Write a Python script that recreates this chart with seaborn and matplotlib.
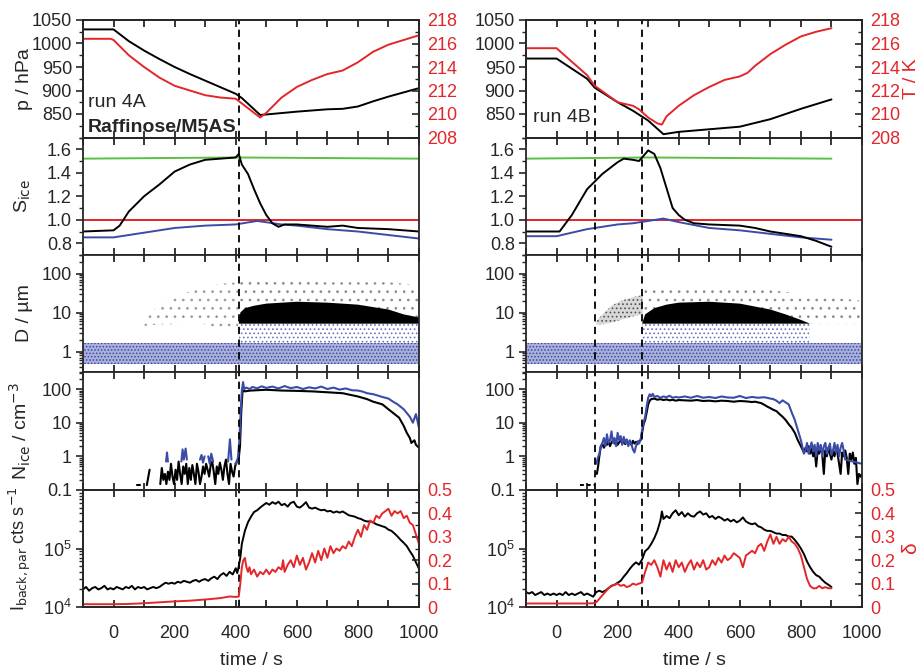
import numpy as np
import matplotlib
matplotlib.use("Agg")
import matplotlib.pyplot as plt
import matplotlib.ticker as mticker
import seaborn as sns

sns.set_theme(style="ticks")
plt.rcParams["font.family"] = ["Liberation Sans", "DejaVu Sans"]
plt.rcParams["hatch.linewidth"] = 0.7
plt.rcParams["axes.linewidth"] = 1.2

RED = "#e3262a"
BLUE = "#3a4ca8"
GREEN = "#5cbf45"
NAN = np.nan

# ---------------- run 4A (left column) ----------------
# pressure / temperature
pA_t = [-100, 0, 50, 100, 150, 200, 250, 300, 350, 400, 420, 480, 500, 600, 700, 750, 800, 850, 900, 1000]
pA = [1030, 1030, 1005, 985, 967, 950, 935, 921, 907, 893, 884, 848, 849, 855, 860, 861, 866, 877, 887, 905]
TA_t = [-100, -10, 0, 50, 100, 150, 200, 250, 300, 350, 400, 410, 480, 500, 550, 600, 650, 700, 750, 800, 850, 900, 950, 1000]
TA = [216.4, 216.4, 216.3, 215.0, 214.0, 213.1, 212.4, 212.0, 211.6, 211.4, 211.3, 211.1, 209.7, 210.1, 211.4, 212.3, 212.9, 213.4, 213.7, 214.4, 215.3, 215.9, 216.3, 216.7]

# saturation ratios
SA_t = [-100, 0, 20, 50, 100, 150, 200, 250, 300, 350, 400, 410, 420, 440, 460, 480, 500, 520, 540, 560, 600, 700, 750, 800, 900, 1000]
SA = [0.90, 0.91, 0.95, 1.07, 1.20, 1.30, 1.41, 1.47, 1.51, 1.52, 1.53, 1.56, 1.47, 1.39, 1.26, 1.14, 1.04, 0.97, 0.94, 0.96, 0.96, 0.94, 0.95, 0.93, 0.92, 0.90]
SwA_t = [-100, 400, 1000]
SwA = [1.52, 1.53, 1.52]
SiwA_t = [-100, 0, 100, 200, 300, 400, 470, 550, 600, 700, 800, 900, 1000]
SiwA = [0.85, 0.85, 0.89, 0.93, 0.95, 0.96, 0.99, 0.96, 0.95, 0.92, 0.90, 0.87, 0.84]

# size distribution envelopes (D / um)
DA_aer_t, DA_aer_lo, DA_aer_hi = [-100, 1000], [0.48, 0.48], [1.7, 1.7]
DA_mid_t, DA_mid_lo, DA_mid_hi = [412, 1000], [1.7, 1.7], [5.2, 5.2]
DA_ice_t = [410, 415, 430, 460, 500, 600, 700, 800, 900, 950, 1000]
DA_ice_lo = [5.2, 5.2, 5.2, 5.2, 5.2, 5.2, 5.2, 5.2, 5.2, 5.2, 5.2]
DA_ice_hi = [5.2, 10, 13, 15, 17, 19, 18, 16, 12, 9, 7.5]
DA_pre_t = [95, 150, 200, 250, 300, 350, 408]
DA_pre_lo = [4.5, 5, 5, 6, 5, 4, 4]
DA_pre_hi = [7, 15, 25, 35, 45, 55, 60]
DA_halo_t = [410, 415, 430, 460, 500, 600, 700, 800, 900, 950, 1000]
DA_halo_lo = [5.2, 10, 13, 15, 17, 19, 18, 16, 12, 9, 7.5]
DA_halo_hi = [60, 60, 62, 65, 65, 62, 60, 60, 60, 55, 50]

# ice number concentration
nA_blk_t = [78, 86, NAN, 109, 118, NAN,
            153, 158, 163, 168, 173, 178, 183, 188, 193, 198, 203, 208, 213, 218, 223, 228, 233, 238, 243,
            248, 253, 258, 263, 268, 273, 278, 283, 288, 293, 298, 303, 308, 313, 318, 323, 328, 333, 338,
            343, 348, 353, 358, 363, 368, 373, 378, 383, 388, 393, 398, 403, 407, 410, 414, 418, 422, 426,
            430, 440, 450, 500, 550, 600, 650, 700, 750, 800, 830, 850, 880, 900, 920, 935, 950, 960, 970,
            975, 985, 990, 1000]
nA_blk = [0.14, 0.14, NAN, 0.14, 0.4, NAN,
          0.15, 0.45, 0.2, 0.3, 0.15, 0.35, 0.2, 0.6, 0.25, 0.15, 0.4, 0.2, 0.7, 0.3, 0.15, 0.5, 0.3, 0.6, 0.15,
          0.45, 0.2, 0.55, 0.3, 0.15, 0.6, 0.35, 0.15, 0.25, 0.5, 0.3, 0.6, 0.4, 0.25, 0.55, 0.7, 0.35, 0.15, 0.5,
          0.3, 0.65, 0.4, 0.2, 0.5, 0.8, 0.3, 0.15, 0.6, 0.35, 0.25, 0.5, 0.7, 0.8, 0.9, 2, 20, 80, 90,
          85, 88, 90, 95, 90, 88, 85, 80, 75, 60, 50, 42, 35, 25, 18, 14, 8, 5, 3.5,
          2.5, 3, 2.2, 1.8]
nA_blu_t = [172, 175, 178, NAN, 222, 226, 230, 236, 240, NAN, 283, 288, 293, 298, NAN, 310, 315, 320, 326, NAN,
            375, 381, 386, NAN, 398, 402, 407, 412, 416, 420, 424, 428, 435, 445, 455, 470, 485, 500, 520, 540,
            560, 580, 600, 620, 640, 660, 680, 700, 720, 740, 760, 780, 800, 815, 830, 850, 865, 880, 900, 915,
            930, 950, 970, 980, 990, 1000]
nA_blu = [0.7, 1.3, 0.7, NAN, 0.7, 1.6, 0.8, 1.7, 0.8, NAN, 0.8, 1.1, 0.65, 1.0, NAN, 1.0, 0.6, 1.2, 0.7, NAN,
          0.7, 3.2, 0.8, NAN, 0.6, 0.6, 0.9, 3, 20, 90, 160, 100, 110, 100, 115, 105, 120, 108, 118, 104,
          122, 106, 115, 100, 112, 104, 118, 100, 110, 96, 104, 92, 90, 84, 75, 70, 64, 58, 52, 42,
          35, 25, 15, 10, 18, 7]

# backscatter intensity and depolarisation
IA_t = [-100, -90, -80, -70, -60, -50, -40, -30, -20, -10, 0, 10, 20, 30, 40, 50, 60, 70, 80, 90, 100,
        110, 120, 130, 140, 150, 160, 170, 180, 190, 200, 210, 220, 230, 240, 250, 260, 270, 280, 290, 300,
        310, 320, 330, 340, 350, 360, 370, 380, 390, 400, 405, 410, 415, 420, 430, 440, 450, 460, 470, 480,
        490, 500, 510, 520, 530, 540, 550, 560, 570, 580, 590, 600, 610, 620, 630, 640, 650, 660, 670, 680,
        690, 700, 710, 720, 730, 740, 750, 760, 770, 780, 790, 800, 810, 820, 830, 840, 850, 860, 870, 880,
        890, 900, 910, 920, 930, 940, 950, 960, 970, 980, 990, 1000]
IA = [2.0e4, 2.2e4, 1.9e4, 2.1e4, 2.2e4, 2.0e4, 2.1e4, 2.3e4, 2.0e4, 2.1e4, 2.0e4, 2.2e4, 2.1e4, 2.0e4, 2.2e4,
      2.1e4, 2.3e4, 2.0e4, 2.2e4, 2.1e4, 2.2e4, 2.0e4, 2.1e4, 2.2e4, 2.1e4, 2.2e4, 2.4e4, 2.6e4, 2.5e4, 2.6e4,
      2.5e4, 2.7e4, 2.6e4, 2.8e4, 2.7e4, 2.6e4, 2.8e4, 2.9e4, 2.7e4, 2.9e4, 3.0e4, 2.8e4, 3.1e4, 3.3e4, 3.0e4,
      3.5e4, 3.8e4, 3.4e4, 4.0e4, 3.6e4, 4.6e4, 3.8e4, 5.0e4, 7.0e4, 1.2e5, 2.0e5, 2.8e5, 3.5e5, 4.2e5, 4.5e5,
      5.0e5, 5.5e5, 6.0e5, 5.6e5, 6.2e5, 5.8e5, 6.3e5, 5.5e5, 5.8e5, 5.2e5, 6.0e5, 6.3e5, 5.2e5, 5.0e5, 5.5e5,
      6.2e5, 5.0e5, 4.8e5, 5.0e5, 4.7e5, 4.5e5, 4.6e5, 4.3e5, 4.4e5, 4.1e5, 4.3e5, 4.1e5, 4.3e5, 4.0e5, 3.7e5,
      3.6e5, 3.5e5, 3.3e5, 3.2e5, 3.0e5, 2.9e5, 2.9e5, 2.8e5, 2.6e5, 2.5e5, 2.4e5, 2.3e5, 2.1e5, 2.0e5, 1.8e5,
      1.6e5, 1.4e5, 1.25e5, 1.1e5, 9.0e4, 7.5e4, 5.8e4, 4.5e4]
dA_t = [-100, 0, 50, 100, 150, 200, 250, 300, 350, 380, 400, 410, 415, 420, 425, 430, 435, 440, 445, 450, 460,
        470, 480, 490, 500, 510, 520, 530, 540, 550, 555, 560, 570, 580, 590, 600, 610, 620, 630, 640, 650,
        660, 670, 680, 690, 700, 710, 720, 730, 740, 750, 760, 770, 780, 790, 800, 810, 820, 830, 840, 850,
        860, 870, 880, 890, 900, 910, 920, 930, 940, 950, 960, 970, 980, 990, 1000]
dA = [0.012, 0.012, 0.013, 0.016, 0.02, 0.024, 0.027, 0.032, 0.038, 0.045, 0.043, 0.045, 0.10, 0.17, 0.20,
      0.21, 0.17, 0.15, 0.17, 0.14, 0.16, 0.13, 0.15, 0.14, 0.16, 0.14, 0.16, 0.15, 0.17, 0.16, 0.20, 0.15,
      0.18, 0.20, 0.17, 0.22, 0.18, 0.21, 0.16, 0.19, 0.23, 0.19, 0.24, 0.20, 0.25, 0.21, 0.26, 0.23, 0.25,
      0.24, 0.26, 0.25, 0.28, 0.26, 0.30, 0.33, 0.30, 0.35, 0.33, 0.37, 0.36, 0.39, 0.38, 0.40, 0.41, 0.42,
      0.39, 0.41, 0.40, 0.41, 0.38, 0.39, 0.36, 0.35, 0.31, 0.27]

# ---------------- run 4B (right column) ----------------
pB_t = [-100, 0, 100, 125, 200, 250, 300, 350, 400, 600, 700, 800, 900]
pB = [968, 968, 925, 906, 875, 857, 836, 807, 812, 823, 839, 861, 881]
TB_t = [-100, 0, 100, 125, 200, 250, 270, 300, 330, 345, 360, 400, 450, 500, 550, 600, 625, 650, 700, 750, 800, 850, 900]
TB = [215.6, 215.6, 213.3, 212.4, 211.0, 210.7, 210.4, 209.7, 209.2, 209.1, 209.8, 210.7, 211.6, 212.3, 212.9,
      213.2, 213.5, 214.1, 215.1, 215.9, 216.6, 217.0, 217.3]

SB_t = [-100, 10, 50, 100, 150, 200, 220, 250, 270, 280, 300, 320, 340, 360, 380, 400, 420, 450, 500, 600,
        650, 700, 800, 850, 900]
SB = [0.90, 0.90, 1.04, 1.26, 1.39, 1.49, 1.52, 1.51, 1.50, 1.53, 1.59, 1.56, 1.44, 1.27, 1.10, 1.04, 1.00,
      0.97, 0.96, 0.95, 0.93, 0.90, 0.86, 0.82, 0.77]
SwB_t = [-100, 300, 900]
SwB = [1.52, 1.53, 1.52]
SiwB_t = [-100, 0, 100, 200, 250, 300, 350, 400, 500, 600, 700, 800, 900]
SiwB = [0.86, 0.86, 0.92, 0.96, 0.97, 0.99, 1.01, 0.98, 0.93, 0.91, 0.88, 0.85, 0.83]

DB_aer_t, DB_aer_lo, DB_aer_hi = [-100, 1000], [0.48, 0.48], [1.7, 1.7]
DB_mid_t, DB_mid_lo, DB_mid_hi = [280, 830], [1.7, 1.7], [5.2, 5.2]
DB_arc_t = [130, 150, 180, 210, 250, 282]
DB_arc_lo = [5, 5, 5.5, 6.5, 8, 9]
DB_arc_hi = [6, 9, 15, 20, 25, 28]
DB_ice_t = [280, 290, 320, 360, 400, 500, 600, 700, 750, 800, 830]
DB_ice_lo = [5.2, 5.2, 5.2, 5.2, 5.2, 5.2, 5.2, 5.2, 5.2, 5.2, 5.2]
DB_ice_hi = [5.2, 9, 13, 16, 18, 19, 17, 12, 9, 6.5, 5.2]
DB_halo_t = [282, 320, 400, 500, 600, 700, 800, 830, 900, 1000]
DB_halo_lo = [9, 13, 18, 19, 17, 12, 6.5, 5.2, 5.2, 5.2]
DB_halo_hi = [40, 45, 47, 48, 45, 38, 30, 28, 25, 20]

nB_pre_t = [77, 126]
nB_pre = [0.14, 0.14]
nB_blk_t = [132, 136, 140, 145, 150, 155, 160, 165, 170, 175, 180, 185, 190, 195, 200, 205, 210, 215, 220, 225,
            230, 235, 240, 245, 250, 255, 260, 265, 270, 275, 280, 285, 290, 295, 300, 305, 310, 320, 330, 340,
            350, 360, 370, 380, 390, 400, 420, 440, 460, 480, 500, 520, 540, 560, 580, 600, 620, 640, 650, 660,
            670, 680, 690, 700, 710, 720, 730, 740, 750, 760, 770, 780, 790, 800, 805, 810, 815, 820, 825, 830,
            835, 840, 845, 850, 855, 860, 865, 870, 875, 880, 885, 890, 895, 900, 905, 910, 915, 920, 925, 930,
            935, 940, 945, 950, 955, 960, 965, 970, 975, 980, 985, 990, 995, 1000]
nB_blk = [0.3, 0.5, 1.0, 2.0, 2.3, 1.8, 2.5, 2.2, 2.8, 2.0, 2.6, 3.0, 2.4, 2.9, 2.2, 2.6, 3.1, 2.4, 2.8, 2.3,
          3.0, 2.5, 2.7, 2.2, 2.9, 2.4, 2.7, 2.3, 2.8, 3.0, 5, 9, 12, 20, 35, 45, 50, 52, 48, 50,
          47, 49, 46, 48, 45, 47, 46, 45, 47, 44, 45, 43, 45, 44, 42, 44, 43, 41, 42, 40,
          38, 34, 30, 27, 24, 22, 18, 15, 12, 9, 7, 5, 3, 2, 1.6, 1.3, 1.8, 1.4, 2.0, 1.2,
          1.7, 1.0, 1.6, 0.5, 1.5, 1.2, 2.0, 1.1, 0.3, 1.5, 1.0, 1.8, 1.2, 0.8, 1.5, 1.0, 1.7, 1.2, 0.6, 0.3,
          1.3, 1.0, 1.5, 0.9, 0.3, 1.2, 0.8, 1.3, 0.6, 0.9, 0.15, 0.3, 0.25, 0.3]
nB_blu_t = [130, 135, 140, 145, 150, 155, 160, 165, 170, 175, 180, 185, 190, 195, 200, 205, 210, 215, 220, 225,
            230, 235, 240, 245, 250, 255, 260, 265, 270, 275, 280, 285, 290, 295, 300, 305, 310, 315, 320, 330,
            340, 350, 360, 370, 380, 390, 400, 420, 440, 460, 480, 500, 520, 540, 560, 580, 600, 620, 640, 660,
            680, 700, 710, 720, 730, 740, 750, 760, 770, 780, 790, 800, 810, 815, 820, 825, 830, 835, 840, 845,
            850, 855, 860, 865, 870, 875, 880, 885, 890, 895, 900, 905, 910, 915, 920, 925, 930, 935, 940, 945,
            1000]
nB_blu = [0.6, 0.9, 1.2, 2.0, 2.5, 3.5, 2.0, 4.5, 2.5, 3.0, 5.5, 2.5, 3.5, 2.0, 5.0, 3.0, 4.0, 2.2, 3.8, 2.5,
          3.2, 2.0, 3.0, 2.3, 1.6, 1.3, 2.0, 2.8, 2.4, 3.0, 6, 10, 15, 30, 55, 70, 60, 72, 58, 62,
          55, 60, 57, 63, 55, 58, 56, 60, 55, 62, 55, 58, 54, 60, 56, 55, 62, 54, 58, 55,
          57, 52, 50, 45, 38, 46, 40, 35, 20, 12, 6, 3, 1.2, 1.5, 2.5, 1.2, 1.8, 2.6, 1.4, 2.2,
          1.0, 2.5, 1.5, 2.2, 1.0, 2.0, 2.5, 1.2, 1.8, 2.4, 1.1, 1.5, 2.5, 1.3, 2.2, 1.0, 1.8, 2.5, 1.5, 0.8,
          0.6]

IB_t = [-100, -90, -80, -70, -60, -50, -40, -30, -20, -10, 0, 10, 20, 30, 40, 50, 60, 70, 80, 90, 100,
        110, 120, 130, 140, 150, 160, 170, 180, 190, 200, 210, 220, 230, 240, 250, 260, 270, 280, 290, 300,
        310, 320, 330, 340, 345, 350, 360, 370, 380, 390, 400, 410, 420, 430, 440, 450, 460, 470, 480, 490,
        500, 510, 520, 530, 540, 550, 560, 570, 580, 590, 600, 610, 620, 630, 640, 650, 660, 670, 680, 690,
        700, 710, 720, 730, 740, 750, 760, 770, 780, 790, 800, 810, 820, 830, 840, 850, 860, 870, 880, 890, 900]
IB = [1.8e4, 1.7e4, 1.8e4, 1.6e4, 1.7e4, 1.8e4, 1.6e4, 1.7e4, 1.6e4, 1.7e4, 1.6e4, 1.7e4, 1.6e4, 1.8e4, 1.6e4,
      1.7e4, 1.6e4, 1.7e4, 1.8e4, 1.6e4, 1.7e4, 1.6e4, 1.5e4, 1.8e4, 1.9e4, 1.8e4, 1.9e4, 2.1e4, 2.3e4, 2.4e4,
      2.6e4, 2.8e4, 3.3e4, 3.8e4, 4.5e4, 5.2e4, 5.8e4, 5.3e4, 6.5e4, 9.0e4, 1.0e5, 1.2e5, 1.5e5, 2.0e5, 3.0e5,
      4.3e5, 3.2e5, 3.6e5, 3.3e5, 4.0e5, 4.5e5, 3.7e5, 4.2e5, 3.5e5, 4.0e5, 3.6e5, 3.5e5, 4.0e5, 4.3e5, 3.8e5,
      4.0e5, 3.4e5, 3.6e5, 3.2e5, 3.5e5, 3.3e5, 3.0e5, 3.2e5, 2.9e5, 3.1e5, 2.8e5, 3.0e5, 3.4e5, 2.9e5, 2.7e5,
      2.6e5, 2.7e5, 2.4e5, 2.3e5, 2.1e5, 2.0e5, 2.0e5, 1.9e5, 1.8e5, 1.8e5, 1.7e5, 1.7e5, 1.6e5, 1.6e5, 1.4e5,
      1.2e5, 1.0e5, 8.0e4, 6.0e4, 4.8e4, 4.0e4, 3.5e4, 3.3e4, 2.9e4, 2.6e4, 2.4e4, 2.2e4]
dB_t = [-100, 100, 120, 130, 140, 150, 160, 170, 180, 190, 200, 210, 220, 230, 240, 250, 260, 270, 280, 290,
        300, 310, 320, 330, 340, 350, 360, 370, 380, 390, 400, 410, 420, 430, 440, 450, 460, 470, 480, 490,
        500, 510, 520, 530, 540, 550, 560, 570, 580, 590, 600, 610, 620, 630, 640, 650, 660, 670, 680, 690,
        700, 710, 720, 730, 740, 750, 760, 770, 780, 790, 800, 810, 820, 830, 840, 850, 860, 870, 880, 890, 900]
dB = [0.015, 0.015, 0.016, 0.02, 0.035, 0.05, 0.065, 0.08, 0.09, 0.095, 0.10, 0.09, 0.095, 0.085, 0.09, 0.10,
      0.095, 0.10, 0.105, 0.15, 0.19, 0.18, 0.20, 0.17, 0.13, 0.20, 0.16, 0.19, 0.15, 0.20, 0.17, 0.19, 0.15,
      0.18, 0.20, 0.16, 0.19, 0.17, 0.20, 0.16, 0.17, 0.20, 0.18, 0.21, 0.19, 0.22, 0.20, 0.21, 0.23, 0.22,
      0.21, 0.17, 0.22, 0.23, 0.24, 0.23, 0.26, 0.27, 0.24, 0.28, 0.31, 0.27, 0.30, 0.27, 0.29, 0.28, 0.30,
      0.28, 0.27, 0.25, 0.22, 0.17, 0.12, 0.09, 0.08, 0.08, 0.09, 0.08, 0.085, 0.08, 0.08]

vlines_A = [410]
vlines_B = [125, 280]

# ---------------- helpers ----------------
W, H = 919, 667
row_edges = [20, 137.5, 255, 372, 490, 607]
col_left = [83, 526]
col_w = 336


def line(ax, t, y, color, lw=1.4, **kw):
    t = np.asarray(t, float)
    y = np.asarray(y, float)
    bad = np.isnan(y) | np.isnan(t)
    start = 0
    for i in list(np.where(bad)[0]) + [len(y)]:
        if i - start >= 2:
            sns.lineplot(x=t[start:i], y=y[start:i], ax=ax, color=color, lw=lw,
                         estimator=None, sort=False, **kw)
        start = i + 1


def band(ax, t, lo, hi, face, hatch=None, edge=None, alpha=1.0):
    ax.fill_between(t, lo, hi, facecolor=face, edgecolor=edge if edge else "none",
                    hatch=hatch, linewidth=0, alpha=alpha)


def style_x(ax, bottom):
    ax.set_xlim(-100, 1000)
    ax.xaxis.set_major_locator(mticker.MultipleLocator(200))
    ax.xaxis.set_minor_locator(mticker.MultipleLocator(100))
    ax.tick_params(axis="x", which="both", direction="in", top=True, bottom=True,
                   length=5, width=1.3, labelsize=13, labelbottom=bottom, pad=13)
    ax.tick_params(axis="y", which="major", direction="out", left=True, right=False,
                   length=5, width=1.2, labelsize=13, pad=3)
    ax.tick_params(axis="y", which="minor", direction="out", left=True, right=False,
                   length=3, width=1.0)
    ax.set_xlabel("")
    ax.set_ylabel("")


def style_twin(ax2, show_labels):
    ax2.tick_params(axis="y", which="major", direction="in", right=True, left=False,
                    length=5, width=1.2, labelsize=13, labelcolor=RED, pad=6,
                    labelright=show_labels)
    ax2.tick_params(axis="y", which="minor", direction="in", right=True, left=False,
                    length=3, width=1.0)


def log_fmt(v, pos):
    return "%g" % v


fig = plt.figure(figsize=(W / 100, H / 100), dpi=100)

for c, run in enumerate(["A", "B"]):
    axs = []
    for r in range(5):
        y0 = 1 - row_edges[r + 1] / H
        h = (row_edges[r + 1] - row_edges[r]) / H
        ax = fig.add_axes([col_left[c] / W, y0, col_w / W, h])
        axs.append(ax)
    g = globals()
    vls = vlines_A if run == "A" else vlines_B

    # row 1: pressure & temperature
    ax = axs[0]
    line(ax, g["p%s_t" % run], g["p%s" % run], "black", 1.4)
    ax.set_ylim(800, 1050)
    ax.set_yticks([850, 900, 950, 1000, 1050])
    ax.yaxis.set_minor_locator(mticker.MultipleLocator(25))
    style_x(ax, False)
    ax2 = ax.twinx()
    line(ax2, g["T%s_t" % run], g["T%s" % run], RED, 1.4)
    ax2.set_ylim(208, 218)
    ax2.set_yticks([208, 210, 212, 214, 216, 218])
    ax2.yaxis.set_minor_locator(mticker.MultipleLocator(1))
    ax2.set_xlim(-100, 1000)
    style_twin(ax2, True)
    ax2.set_ylabel("")
    if run == "A":
        ax.set_ylabel("p / hPa", fontsize=14)
        ax.text(0.015, 0.30, "run 4A", transform=ax.transAxes, fontsize=14, va="center")
        ax.text(0.015, 0.085, "Raffinose/M5AS", transform=ax.transAxes, fontsize=14,
                va="center", fontweight="bold")
    else:
        ax.text(0.02, 0.17, "run 4B", transform=ax.transAxes, fontsize=14, va="center")
        ax2.set_ylabel("T / K", fontsize=14, color=RED, labelpad=2)

    # row 2: saturation ratios
    ax = axs[1]
    ax.axhline(1.0, color=RED, lw=1.4)
    line(ax, g["Sw%s_t" % run], g["Sw%s" % run], GREEN, 1.4)
    line(ax, g["Siw%s_t" % run], g["Siw%s" % run], BLUE, 1.4)
    line(ax, g["S%s_t" % run], g["S%s" % run], "black", 1.4)
    ax.set_ylim(0.7, 1.7)
    ax.set_yticks([0.8, 1.0, 1.2, 1.4, 1.6])
    ax.yaxis.set_major_formatter(mticker.FormatStrFormatter("%.1f"))
    ax.yaxis.set_minor_locator(mticker.MultipleLocator(0.1))
    style_x(ax, False)
    if run == "A":
        ax.set_ylabel("S$_{\\rm ice}$", fontsize=14)

    # row 3: particle sizes
    ax = axs[2]
    ax.set_yscale("log")
    band(ax, g["D%s_aer_t" % run], g["D%s_aer_lo" % run], g["D%s_aer_hi" % run],
         "#aab0dc", hatch=".....", edge="#3a47a0")
    band(ax, g["D%s_mid_t" % run], g["D%s_mid_lo" % run], g["D%s_mid_hi" % run],
         "none", hatch="....", edge="#6a74bb")
    if run == "A":
        band(ax, DA_pre_t, DA_pre_lo, DA_pre_hi, "none", hatch="..", edge="#9a9a9a")
    else:
        band(ax, DB_arc_t, DB_arc_lo, DB_arc_hi, "#d8d8d8", hatch="....", edge="#505050")
    band(ax, g["D%s_halo_t" % run], g["D%s_halo_lo" % run], g["D%s_halo_hi" % run],
         "none", hatch="..", edge="#8a8a8a")
    band(ax, g["D%s_ice_t" % run], g["D%s_ice_lo" % run], g["D%s_ice_hi" % run], "black")
    ax.set_ylim(0.3, 300)
    ax.set_yticks([1, 10, 100])
    ax.yaxis.set_major_formatter(mticker.FuncFormatter(log_fmt))
    ax.yaxis.set_minor_formatter(mticker.NullFormatter())
    style_x(ax, False)
    if run == "A":
        ax.set_ylabel("D / \u00b5m", fontsize=14)

    # row 4: ice number concentration
    ax = axs[3]
    ax.set_yscale("log")
    if run == "B":
        line(ax, nB_pre_t, nB_pre, "black", 1.4, linestyle=(0, (2, 1.5)))
    line(ax, g["n%s_blk_t" % run], g["n%s_blk" % run], "black", 1.5)
    line(ax, g["n%s_blu_t" % run], g["n%s_blu" % run], BLUE, 1.5)
    ax.set_ylim(0.1, 320)
    ax.set_yticks([0.1, 1, 10, 100])
    ax.yaxis.set_major_formatter(mticker.FuncFormatter(log_fmt))
    ax.yaxis.set_minor_formatter(mticker.NullFormatter())
    style_x(ax, False)
    if run == "A":
        ax.set_ylabel("N$_{\\rm ice}$ / cm$^{-3}$", fontsize=14)

    # row 5: backscatter & depolarisation
    ax = axs[4]
    ax.set_yscale("log")
    line(ax, g["I%s_t" % run], g["I%s" % run], "black", 1.4)
    ax.set_ylim(1e4, 1e6)
    ax.set_yticks([1e4, 1e5])
    ax.yaxis.set_minor_formatter(mticker.NullFormatter())
    style_x(ax, True)
    ax.set_xlabel("time / s", fontsize=14, labelpad=7)
    ax2 = ax.twinx()
    line(ax2, g["d%s_t" % run], g["d%s" % run], RED, 1.4)
    ax2.set_ylim(0, 0.5)
    ax2.set_yticks([0, 0.1, 0.2, 0.3, 0.4, 0.5])
    ax2.set_yticklabels(["0", "0.1", "0.2", "0.3", "0.4", "0.5"])
    ax2.yaxis.set_minor_locator(mticker.MultipleLocator(0.05))
    ax2.set_xlim(-100, 1000)
    style_twin(ax2, True)
    ax2.set_ylabel("")
    if run == "A":
        ax.set_ylabel("I$_{\\rm back,par}$ cts s$^{-1}$", fontsize=13)
    else:
        ax2.set_ylabel("\u03b4", fontsize=15, color=RED, labelpad=4)

    for ax in axs:
        for v in vls:
            ax.axvline(v, color="black", lw=1.3, ls=(0, (4, 3)), zorder=5)
        if run == "A":
            ax.yaxis.set_label_coords(-0.15, 0.5)
        for s in ax.spines.values():
            s.set_linewidth(1.3)

fig.savefig("out.png", dpi=100)
plt.close(fig)
